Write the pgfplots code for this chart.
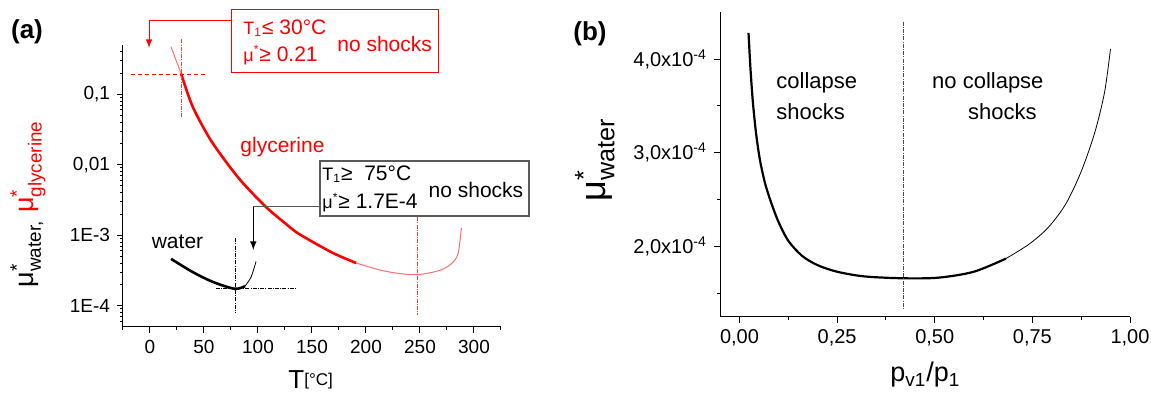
\documentclass[border=0pt]{standalone}
\usepackage{fontspec}
\setmainfont{Liberation Sans}
\usepackage{amsmath}
\usepackage{pgfplots}
\pgfplotsset{compat=1.18}
\definecolor{lred}{RGB}{255,110,110}
\definecolor{mred}{RGB}{255,60,60}
\definecolor{boxgray}{RGB}{90,90,90}
\begin{document}
\begin{tikzpicture}
\useasboundingbox (0,0) rectangle (575.5pt,197pt);
% ---------------- (a) ----------------
\begin{axis}[
  at={(61.5pt,33.5pt)}, anchor=south west,
  scale only axis, width=189pt, height=141pt,
  ymode=log, xmin=-25, xmax=325, ymin=5e-5, ymax=0.5,
  axis lines=left, axis line style={-, line width=0.5pt},
  clip=false,
  xtick={0,50,100,150,200,250,300},
  xticklabels={0,50,100,150,200,250,300},
  minor xtick={-25,25,75,125,175,225,275,325},
  ytick={1e-4,1e-3,1e-2,1e-1},
  yticklabels={1E-4,1E-3,{0,01},{0,1}},
  minor ytick={6e-5,7e-5,8e-5,9e-5,2e-4,3e-4,4e-4,5e-4,6e-4,7e-4,8e-4,9e-4,2e-3,3e-3,4e-3,5e-3,6e-3,7e-3,8e-3,9e-3,0.02,0.03,0.04,0.05,0.06,0.07,0.08,0.09,0.2,0.3,0.4},
  tick align=outside, major tick length=3pt, minor tick length=1.5pt,
  tick style={black, line width=0.5pt},
  ticklabel style={font=\fontsize{9.5}{10}\selectfont},
]
% glycerine
\addplot[lred, line width=0.5pt] coordinates {(19.5,0.47) (28.7,0.198)};
\addplot[red, line width=1.3pt, smooth] coordinates {
 (28.7,0.198) (39.5,0.0668) (55,0.0240) (70.5,0.01096) (85.8,5.56e-3)
 (107.5,2.51e-3) (126,1.445e-3) (138.4,1.035e-3) (169.3,5.62e-4) (191,4.04e-4)};
\addplot[lred, line width=0.5pt, smooth] coordinates {
 (191,4.04e-4) (212.5,3.23e-4) (230,2.88e-4) (248,2.76e-4) (268,3.17e-4)
 (279,3.94e-4) (285.2,5.46e-4) (288.3,1.27e-3)};
% water
\addplot[black, line width=1.3pt, smooth] coordinates {
 (19.5,4.63e-4) (39.5,3.01e-4) (58.2,2.18e-4) (78.5,1.74e-4) (88,1.9e-4)};
\addplot[black, line width=0.4pt, smooth] coordinates {
 (88,1.9e-4) (93.6,2.56e-4) (98.2,4.25e-4)};
% guide lines
\addplot[red, line width=0.5pt, dash pattern=on 2pt off 1.5pt] coordinates {(-18,0.19) (52,0.19)};
\addplot[mred, line width=0.5pt, dash pattern=on 2pt off 0.6pt on 0.5pt off 0.6pt] coordinates {(29,0.60) (29,0.048)};
\addplot[mred, line width=0.5pt, dash pattern=on 2pt off 0.6pt on 0.5pt off 0.6pt] coordinates {(248,1.81e-3) (248,7.3e-5)};
\addplot[black, line width=0.4pt, dash pattern=on 2pt off 0.6pt on 0.5pt off 0.6pt] coordinates {(79,9.1e-4) (79,8.0e-5)};
\addplot[black, line width=0.4pt, dash pattern=on 2pt off 0.6pt on 0.5pt off 0.6pt] coordinates {(61,1.75e-4) (135,1.75e-4)};
\end{axis}
% ---------------- (b) ----------------
\begin{axis}[
  at={(360pt,38.65pt)}, anchor=south west,
  scale only axis, width=205pt, height=152.2pt,
  xmin=-0.05, xmax=1.0, ymin=1.25e-4, ymax=4.5e-4,
  axis lines=left, axis line style={-, line width=0.5pt},
  clip=false, scaled y ticks=false, scaled x ticks=false,
  xtick={0,0.25,0.5,0.75,1},
  xticklabels={{0,00},{0,25},{0,50},{0,75},{1,00}},
  minor xtick={0.125,0.375,0.625,0.875},
  ytick={2e-4,3e-4,4e-4},
  yticklabels={{2,0x10\textsuperscript{-4}},{3,0x10\textsuperscript{-4}},{4,0x10\textsuperscript{-4}}},
  minor ytick={1.5e-4,2.5e-4,3.5e-4},
  tick align=outside, major tick length=3pt, minor tick length=1.5pt,
  tick style={black, line width=0.5pt},
  ticklabel style={font=\fontsize{10}{11}\selectfont},
]
\addplot[black, line width=1.1pt, smooth] coordinates {
 (0.023,4.28e-4) (0.028,3.90e-4) (0.034,3.55e-4) (0.042,3.22e-4) (0.052,2.93e-4)
 (0.065,2.68e-4) (0.08,2.48e-4) (0.10,2.26e-4) (0.125,2.06e-4) (0.16,1.90e-4)
 (0.2,1.80e-4) (0.25,1.73e-4) (0.32,1.68e-4) (0.42,1.66e-4) (0.51,1.667e-4)
 (0.6,1.73e-4) (0.682,1.87e-4)};
\addplot[black, line width=0.4pt, smooth] coordinates {
 (0.682,1.87e-4) (0.74,2.02e-4) (0.79,2.20e-4) (0.835,2.45e-4) (0.875,2.80e-4)
 (0.91,3.22e-4) (0.935,3.65e-4) (0.95,4.11e-4)};
\addplot[black!70, line width=0.4pt, dash pattern=on 2pt off 0.6pt on 0.5pt off 0.6pt] coordinates {(0.42,4.4e-4) (0.42,1.34e-4)};
\end{axis}
% ---------------- annotations ----------------
\node[font=\fontsize{13}{13}\selectfont\bfseries] at (13.5pt,181pt) {(a)};
\node[font=\fontsize{13}{13}\selectfont\bfseries] at (295pt,180pt) {(b)};
% left y label
\node[rotate=90, font=\fontsize{13.5}{14}\selectfont] at (14pt,95pt)
  {μ$^{\text{*}}_{\text{water,}}$ \textcolor{red}{μ$^{\text{*}}_{\text{glycerine}}$}};
% left x label
\node[anchor=base west, inner sep=0pt] at (144pt,2.5pt)
  {{\fontsize{13}{13}\selectfont T}\raisebox{1.6pt}{\fontsize{8.5}{9}\selectfont [°C]}};
% right x label
\node[anchor=base west, inner sep=0pt, font=\fontsize{13.5}{14}\selectfont] at (445pt,6.15pt)
  {p\textsubscript{v1}/p\textsubscript{1}};
% right y label
\node[rotate=90, anchor=base, inner sep=0pt, font=\fontsize{18}{18}\selectfont] at (302.5pt,117pt)
  {μ$^{\text{*}}_{\text{water}}$};
% red box
\draw[red, line width=0.5pt] (115.5pt,160.65pt) rectangle (219pt,192pt);
\draw[red, line width=0.5pt, -latex] (115.5pt,186.5pt) -- (74.5pt,186.5pt) -- (74.5pt,173pt);
\node[anchor=west, inner sep=0pt, text=red] at (121.5pt,182.75pt)
  {{\fontsize{9}{9}\selectfont T\textsubscript{1}}{\fontsize{10.5}{11}\selectfont ≤ 30°C}};
\node[anchor=west, inner sep=0pt, text=red] at (121.5pt,169.5pt)
  {{\fontsize{9}{9}\selectfont μ\textsuperscript{*}}{\fontsize{10.5}{11}\selectfont ≥ 0.21}};
\node[anchor=west, inner sep=0pt, text=red, font=\fontsize{10.5}{11}\selectfont] at (168.5pt,174.75pt) {no shocks};
% black box
\draw[boxgray, line width=0.6pt] (160pt,89pt) rectangle (264.5pt,116.5pt);
\draw[boxgray, line width=0.5pt] (160pt,93.65pt) -- (126.65pt,93.65pt);
\draw[black, line width=0.5pt, -latex] (126.65pt,93.65pt) -- (126.65pt,72pt);
\node[anchor=west, inner sep=0pt] at (161pt,110pt)
  {{\fontsize{9}{9}\selectfont T\textsubscript{1}}{\fontsize{10.5}{11}\selectfont ≥\ \ 75°C}};
\node[anchor=west, inner sep=0pt] at (161pt,95.75pt)
  {{\fontsize{9}{9}\selectfont μ\textsuperscript{*}}{\fontsize{10.5}{11}\selectfont ≥ 1.7E-4}};
\node[anchor=west, inner sep=0pt, font=\fontsize{10.5}{11}\selectfont] at (214.15pt,102pt) {no shocks};
% curve labels
\node[text=red, font=\fontsize{10.5}{11}\selectfont] at (141.25pt,123.65pt) {glycerine};
\node[font=\fontsize{10.5}{11}\selectfont] at (88.75pt,76.15pt) {water};
% right panel texts
\node[anchor=west, inner sep=0pt, font=\fontsize{11}{12}\selectfont] at (388pt,155.35pt) {collapse};
\node[anchor=west, inner sep=0pt, font=\fontsize{11}{12}\selectfont] at (388pt,141.15pt) {shocks};
\node[anchor=west, inner sep=0pt, font=\fontsize{11}{12}\selectfont] at (465.9pt,155.35pt) {no collapse};
\node[anchor=west, inner sep=0pt, font=\fontsize{11}{12}\selectfont] at (483.9pt,141.15pt) {shocks};
\end{tikzpicture}
\end{document}
